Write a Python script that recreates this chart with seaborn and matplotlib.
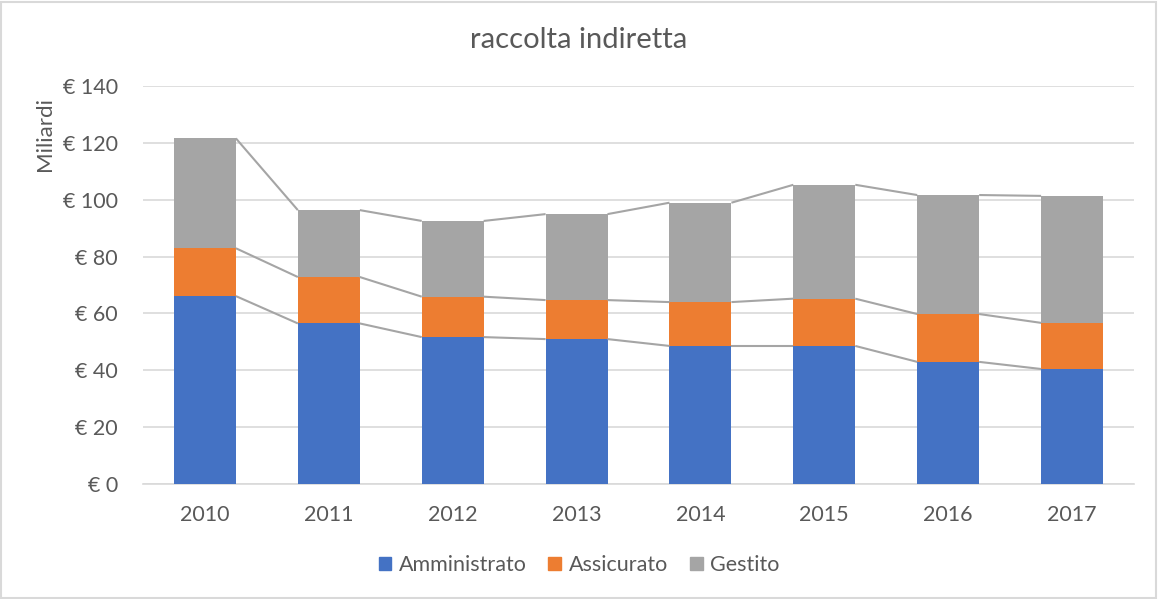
import matplotlib
matplotlib.use("Agg")
import matplotlib.pyplot as plt
import matplotlib.patches as mpatches
import seaborn as sns
import pandas as pd
import numpy as np

years = ["2010", "2011", "2012", "2013", "2014", "2015", "2016", "2017"]
amministrato = [66.1, 56.5, 51.7, 51.0, 48.6, 48.6, 43.0, 40.5]
assicurato = [16.8, 16.3, 14.2, 13.7, 15.4, 16.6, 16.8, 16.2]
gestito = [38.6, 23.5, 26.6, 30.2, 34.9, 40.0, 41.8, 44.6]
series_names = ["Amministrato", "Assicurato", "Gestito"]
colors = ["#4472c4", "#ed7d31", "#a5a5a5"]
yticks = [0, 20, 40, 60, 80, 100, 120, 140]

sns.set_theme(style="white")
plt.rcParams['font.family'] = ['Lato', 'DejaVu Sans']

fig = plt.figure(figsize=(11.58, 5.99), dpi=100)
ax = fig.add_axes([143/1158, 114.7/599, (1134-143)/1158, (513.3-114.7)/599])

c1 = np.array(amministrato)
c2 = c1 + np.array(assicurato)
c3 = c2 + np.array(gestito)
df = pd.DataFrame({"year": years, "c1": c1, "c2": c2, "c3": c3})

for col, colr in zip(["c3", "c2", "c1"], colors[::-1]):
    sns.barplot(data=df, x="year", y=col, color=colr, width=0.5,
                saturation=1, ax=ax, zorder=3, linewidth=0)

# series connector lines
half = 0.25
for cum in [c1, c2, c3]:
    for i in range(len(years) - 1):
        ax.plot([i + half, i + 1 - half], [cum[i], cum[i + 1]],
                color="#a5a5a5", lw=1.5, zorder=4, solid_capstyle="butt")

ax.set_ylim(0, 140)
ax.set_xlim(-0.5, len(years) - 0.5)
ax.set_yticks(yticks)
ax.set_yticklabels([f"€ {v}" for v in yticks])
ax.yaxis.grid(True, color="#d9d9d9", lw=1.2, zorder=0)
ax.set_axisbelow(True)
for s in ["top", "right", "left"]:
    ax.spines[s].set_visible(False)
ax.spines["bottom"].set_color("#d9d9d9")
ax.spines["bottom"].set_linewidth(1.2)
ax.tick_params(axis="both", length=0, labelsize=15.5, colors="#595959")
ax.tick_params(axis="y", pad=18)
ax.tick_params(axis="x", pad=15)
ax.set_xlabel("")
ax.set_ylabel("")

fig.text(0.5, 1 - 40/599, "raccolta indiretta", ha="center", va="center",
         fontsize=21, color="#595959")
fig.text(45/1158, 1 - 134/599, "Miliardi", rotation=90, ha="center",
         va="center", fontsize=16, color="#595959")

handles = [mpatches.Patch(color=c, label=n) for c, n in zip(colors, series_names)]
fig.legend(handles=handles, loc="center", bbox_to_anchor=(0.5, 1 - 565/599),
           ncol=3, frameon=False, fontsize=15.5, handlelength=0.6,
           handleheight=0.6, handletextpad=0.35, columnspacing=1.0,
           labelcolor="#595959")

fig.patches.append(mpatches.Rectangle((0.001, 0.002), 0.997, 0.995,
                                      transform=fig.transFigure, fill=False,
                                      edgecolor="#d9d9d9", lw=1.5))

fig.savefig("out.png", dpi=100)
